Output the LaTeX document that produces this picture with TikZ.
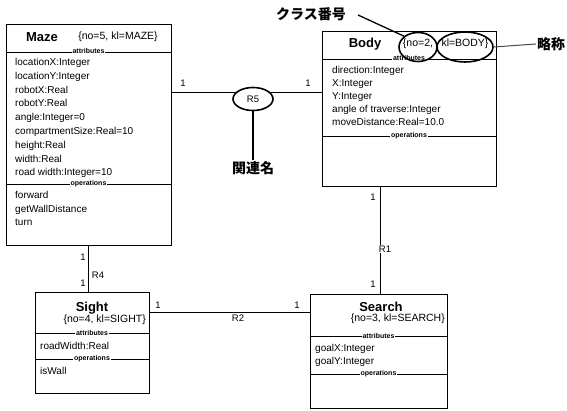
\documentclass[tikz,border=0pt]{standalone}
\usepackage{fontspec}
\setmainfont{Liberation Sans}
\newfontfamily\jpfont{Noto Sans CJK JP}
\usetikzlibrary{shapes.geometric}
\tikzset{
  umlbox/.style={draw=black, line width=0.7pt, inner sep=0pt, outer sep=0pt, rectangle},
  divline/.style={draw=black, line width=0.6pt},
  attr/.style={anchor=west, inner sep=0pt, font=\fontsize{10}{12}\selectfont, text height=7.2pt, text depth=2pt},
  sect/.style={fill=white, inner sep=1pt, font=\fontsize{7}{8}\selectfont\bfseries},
  cname/.style={inner sep=0pt, font=\fontsize{13}{15}\selectfont\bfseries},
  cid/.style={inner sep=0pt, font=\fontsize{10.5}{12}\selectfont},
  mult/.style={inner sep=0pt, font=\fontsize{9.5}{11}\selectfont},
  rel/.style={draw=black, line width=0.7pt},
  annot/.style={ellipse, draw=black, line width=1.6pt, inner sep=0pt},
  jplabel/.style={inner sep=1pt, font=\jpfont\fontsize{14}{16}\selectfont\bfseries},
  pointer/.style={draw=black, line width=1.6pt}
}
\begin{document}
\begin{tikzpicture}[x=1pt,y=-1pt]
\useasboundingbox (0,0) rectangle (567,411);

% ---------- Maze ----------
\node[umlbox, minimum width=165pt, minimum height=221pt] (maze) at (88.5,134.5) {};
\node[cname] (mazename) at (42,37) {Maze};
\node[cid] (mazeid) at (118,37) {\{no=5, kl=MAZE\}};
\draw[divline] (maze.west |- 0,52) -- (maze.east |- 0,52);
\node[sect] (mazeattr) at (88.5,51.5) {attributes};
\node[attr] (m1) at (15,63) {locationX:Integer};
\node[attr] (m2) at (15,76.8) {locationY:Integer};
\node[attr] (m3) at (15,90.6) {robotX:Real};
\node[attr] (m4) at (15,104.4) {robotY:Real};
\node[attr] (m5) at (15,118.2) {angle:Integer=0};
\node[attr] (m6) at (15,132) {compartmentSize:Real=10};
\node[attr] (m7) at (15,145.8) {height:Real};
\node[attr] (m8) at (15,159.6) {width:Real};
\node[attr] (m9) at (15,173.4) {road width:Integer=10};
\draw[divline] (maze.west |- 0,184) -- (maze.east |- 0,184);
\node[sect] (mazeops) at (88.5,183.5) {operations};
\node[attr] (mo1) at (15,196) {forward};
\node[attr] (mo2) at (15,209.5) {getWallDistance};
\node[attr] (mo3) at (15,223) {turn};

% ---------- Body ----------
\node[umlbox, minimum width=174pt, minimum height=155pt] (body) at (409,108.5) {};
\node[cname] (bodyname) at (365,44) {Body};
\node[cid] (bodyno) at (418,44) {\{no=2,};
\node[cid] (bodykl) at (465,44) {kl=BODY\}};
\draw[divline] (body.west |- 0,59) -- (body.east |- 0,59);
\node[sect] (bodyattr) at (409,58.5) {attributes};
\node[attr] (b1) at (332,71) {direction:Integer};
\node[attr] (b2) at (332,84) {X:Integer};
\node[attr] (b3) at (332,97) {Y:Integer};
\node[attr] (b4) at (332,110) {angle of traverse:Integer};
\node[attr] (b5) at (332,123) {moveDistance:Real=10.0};
\draw[divline] (body.west |- 0,136) -- (body.east |- 0,136);
\node[sect] (bodyops) at (409,135.5) {operations};

% ---------- Sight ----------
\node[umlbox, minimum width=114pt, minimum height=101pt] (sight) at (92,342.5) {};
\node[cname] (sightname) at (92,308) {Sight};
\node[cid, anchor=east] (sightid) at (146,320) {\{no=4, kl=SIGHT\}};
\draw[divline] (sight.west |- 0,333) -- (sight.east |- 0,333);
\node[sect] (sightattr) at (92,332.5) {attributes};
\node[attr] (s1) at (40,347) {roadWidth:Real};
\draw[divline] (sight.west |- 0,359) -- (sight.east |- 0,359);
\node[sect] (sightops) at (92,358.5) {operations};
\node[attr] (so1) at (40,372) {isWall};

% ---------- Search ----------
\node[umlbox, minimum width=137pt, minimum height=114pt] (search) at (378.5,351) {};
\node[cname] (searchname) at (381,307) {Search};
\node[cid, anchor=east] (searchid) at (445,319) {\{no=3, kl=SEARCH\}};
\draw[divline] (search.west |- 0,336) -- (search.east |- 0,336);
\node[sect] (searchattr) at (378.5,335.5) {attributes};
\node[attr] (q1) at (315,349) {goalX:Integer};
\node[attr] (q2) at (315,362) {goalY:Integer};
\draw[divline] (search.west |- 0,374) -- (search.east |- 0,374);
\node[sect] (searchops) at (378.5,373.5) {operations};

% ---------- Relationships ----------
\coordinate (r5y) at (0,92);
\coordinate (r2y) at (0,312);
\coordinate (r1x) at (380,0);
\draw[rel] (maze.east |- r5y) -- (body.west |- r5y);
\draw[rel] (maze.south) -- (maze.south |- sight.north);
\draw[rel] (sight.east |- r2y) -- (search.west |- r2y);
\draw[rel] (body.south -| r1x) -- (search.north -| r1x);

\node[annot, fill=white, minimum width=40pt, minimum height=23pt] (er5) at (253,99) {};
\node[mult] (r5) at (253,99) {R5};
\node[mult] (m5a) at (183,83) {1};
\node[mult] (m5b) at (308,83) {1};

\node[mult] (m4a) at (83,257) {1};
\node[mult] (r4) at (98,275) {R4};
\node[mult] (m4b) at (83,283) {1};

\node[mult] (m2a) at (158,305) {1};
\node[mult, fill=white, inner sep=1pt] (r2) at (238,318) {R2};
\node[mult] (m2b) at (297,305) {1};

\node[mult] (m1a) at (373,197) {1};
\node[mult, fill=white, inner sep=1pt] (r1) at (385,249) {R1};
\node[mult] (m1b) at (373,284) {1};

% ---------- Annotations ----------
\node[annot, minimum width=38pt, minimum height=29pt] (eno) at (418,47) {};
\node[annot, minimum width=56pt, minimum height=30pt] (ekl) at (465,47) {};
\node[jplabel] (kura) at (311,14) {クラス番号};
\coordinate (kuraptr) at (358,15);
\draw[pointer, line width=1.3pt] (kuraptr) -- (eno.north west);
\node[jplabel] (ryaku) at (551,44) {略称};
\draw[draw=black!70, line width=1pt] (ekl.east) -- (ryaku.west);
\node[jplabel] (kanren) at (253,168) {関連名};
\draw[pointer] (er5.south) -- (kanren.north);
\end{tikzpicture}
\end{document}
